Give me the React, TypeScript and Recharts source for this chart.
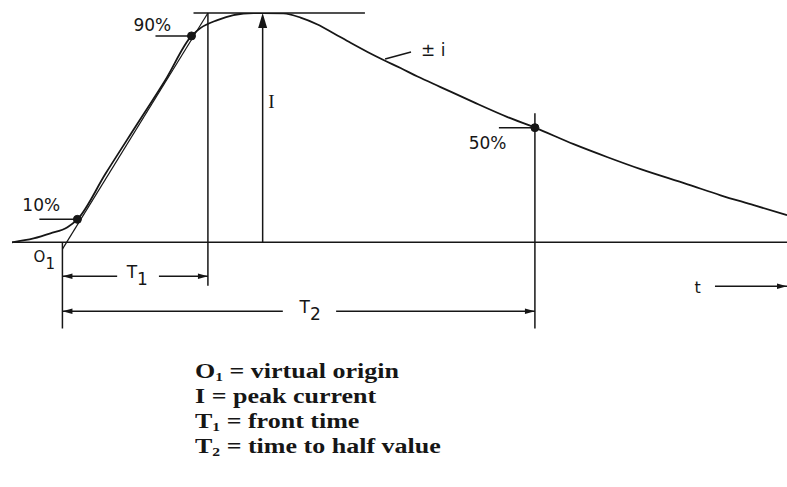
import {
  ComposedChart,
  Line,
  ReferenceDot,
  ReferenceLine,
  XAxis,
  YAxis,
} from "recharts";

// Impulse current waveform.
// Time in arbitrary units with the virtual origin O1 at 0, current in % of peak.
const timeValues = [
  -3.5, -2.0, -0.83, 0.35, 1.04, 3.0, 5.07, 7.15, 8.96, 9.58, 10.76, 11.88,
  13.26, 13.9, 15.35, 16.53, 17.71, 18.82, 20.0, 21.18, 22.29, 23.47, 24.65,
  26.25, 28.54, 30.9, 32.8, 35.49, 37.85, 40.14, 43.4, 45.69, 47.99, 50.3,
];
const currentPct = [
  0, 1.7, 3.9, 6.6, 10, 30.0, 50.4, 70.8, 90, 93.4, 96.9, 99.1, 100, 100, 99.8,
  98.0, 95.0, 91.2, 87.0, 83.0, 79.5, 76.0, 72.3, 67.7, 61.1, 54.6, 50, 42.8,
  37.1, 31.9, 25.3, 20.5, 16.2, 11.8,
];

// characteristic points on the curve
const markLabels = ["10%", "90%", "50%"];
const markTimes = [1.04, 8.96, 32.8];
const markLevels = [10, 90, 50];

// characteristic instants
const O1 = 0;
const T1_END = 10.1;
const T_PEAK = 13.9;
const T2_END = 32.8;

const legendLines = [
  ["O", "1", " = virtual origin"],
  ["I", "", " = peak current"],
  ["T", "1", " = front time"],
  ["T", "2", " = time to half value"],
];

const INK = "#161616";
const SANS = "'DejaVu Sans', Verdana, sans-serif";

const data = timeValues.map((t, i) => ({ t, pct: currentPct[i] }));

function textShape(content: React.ReactNode, anchor = "start", size = 17, family = SANS) {
  return (p: any) => (
    <text
      x={p.cx}
      y={p.cy}
      textAnchor={anchor}
      fontSize={size}
      fontFamily={family}
      fill={INK}
    >
      {content}
    </text>
  );
}

function arrowHead(dir: "left" | "right" | "up") {
  return (p: any) => {
    const { cx, cy } = p;
    let pts = "";
    if (dir === "right") pts = `${cx},${cy} ${cx - 10},${cy - 2.8} ${cx - 10},${cy + 2.8}`;
    if (dir === "left") pts = `${cx},${cy} ${cx + 10},${cy - 2.8} ${cx + 10},${cy + 2.8}`;
    if (dir === "up") pts = `${cx},${cy} ${cx - 4.5},${cy + 15} ${cx + 4.5},${cy + 15}`;
    return <polygon points={pts} fill={INK} />;
  };
}

const sub = (main: string, s: string) => (
  <>
    <tspan>{main}</tspan>
    <tspan dy={7}>{s}</tspan>
  </>
);

export default function App() {
  const line = { stroke: INK, strokeWidth: 1.5, ifOverflow: "visible" as const };
  return (
    <div style={{ position: "absolute", left: 0, top: 0, width: 787, height: 487, background: "#fff" }}>
      <ComposedChart
        width={787}
        height={487}
        data={data}
        margin={{ top: 13, right: 0, bottom: 153, left: 12 }}
      >
        <XAxis type="number" dataKey="t" domain={[-3.5, 50.3]} hide allowDataOverflow />
        <YAxis type="number" domain={[-40, 100]} hide allowDataOverflow />

        {/* time axis */}
        <ReferenceLine y={0} {...line} />
        {/* peak level */}
        <ReferenceLine segment={[{ x: 9.1, y: 100 }, { x: 21.0, y: 100 }]} {...line} />
        {/* straight line through 10% and 90% */}
        <ReferenceLine segment={[{ x: O1, y: -3 }, { x: T1_END, y: 100 }]} {...line} strokeWidth={1.2} />

        {/* verticals */}
        <ReferenceLine segment={[{ x: O1, y: 0 }, { x: O1, y: -37.6 }]} {...line} />
        <ReferenceLine segment={[{ x: T1_END, y: 100 }, { x: T1_END, y: -19 }]} {...line} />
        <ReferenceLine segment={[{ x: T_PEAK, y: 0 }, { x: T_PEAK, y: 98 }]} {...line} />
        <ReferenceLine segment={[{ x: T2_END, y: 56.3 }, { x: T2_END, y: -37.6 }]} {...line} />

        {/* level leaders */}
        <ReferenceLine segment={[{ x: -1.6, y: 10 }, { x: markTimes[0], y: 10 }]} {...line} />
        <ReferenceLine segment={[{ x: 6.46, y: 90 }, { x: markTimes[1], y: 90 }]} {...line} />
        <ReferenceLine segment={[{ x: 30.3, y: 50 }, { x: markTimes[2], y: 50 }]} {...line} />
        <ReferenceLine segment={[{ x: 22.4, y: 79.9 }, { x: 24.2, y: 83.0 }]} {...line} />

        {/* T1 dimension */}
        <ReferenceLine segment={[{ x: O1, y: -14.8 }, { x: 3.8, y: -14.8 }]} {...line} />
        <ReferenceLine segment={[{ x: 6.7, y: -14.8 }, { x: T1_END, y: -14.8 }]} {...line} />
        {/* T2 dimension */}
        <ReferenceLine segment={[{ x: O1, y: -30.1 }, { x: 15.3, y: -30.1 }]} {...line} />
        <ReferenceLine segment={[{ x: 19.0, y: -30.1 }, { x: T2_END, y: -30.1 }]} {...line} />
        {/* t direction arrow */}
        <ReferenceLine segment={[{ x: 45.3, y: -19.2 }, { x: 50.3, y: -19.2 }]} {...line} />

        <Line
          type="monotone"
          dataKey="pct"
          stroke={INK}
          strokeWidth={1.8}
          dot={false}
          isAnimationActive={false}
        />

        {/* arrowheads */}
        <ReferenceDot x={T_PEAK} y={100} ifOverflow="visible" shape={arrowHead("up")} />
        <ReferenceDot x={O1} y={-14.8} ifOverflow="visible" shape={arrowHead("left")} />
        <ReferenceDot x={T1_END} y={-14.8} ifOverflow="visible" shape={arrowHead("right")} />
        <ReferenceDot x={O1} y={-30.1} ifOverflow="visible" shape={arrowHead("left")} />
        <ReferenceDot x={T2_END} y={-30.1} ifOverflow="visible" shape={arrowHead("right")} />
        <ReferenceDot x={50.3} y={-19.2} ifOverflow="visible" shape={arrowHead("right")} />

        {/* marked points */}
        {markTimes.map((t, i) => (
          <ReferenceDot key={markLabels[i]} x={t} y={markLevels[i]} r={4} fill={INK} stroke={INK} ifOverflow="visible" />
        ))}

        {/* labels */}
        <ReferenceDot x={-2.78} y={13.5} ifOverflow="visible" shape={textShape(markLabels[0])} />
        <ReferenceDot x={4.93} y={92} ifOverflow="visible" shape={textShape(markLabels[1])} />
        <ReferenceDot x={28.2} y={40.6} ifOverflow="visible" shape={textShape(markLabels[2])} />
        <ReferenceDot x={24.9} y={81.2} ifOverflow="visible" shape={textShape("± i", "start", 17)} />
        <ReferenceDot x={14.5} y={58.5} ifOverflow="visible" shape={textShape("I", "middle", 19, "'Liberation Serif', serif")} />
        <ReferenceDot x={-2.0} y={-8.7} ifOverflow="visible" shape={textShape(sub("O", "1"), "start", 15)} />
        <ReferenceDot x={5.2} y={-15.7} ifOverflow="visible" shape={textShape(sub("T", "1"), "middle", 17)} />
        <ReferenceDot x={17.2} y={-31} ifOverflow="visible" shape={textShape(sub("T", "2"), "middle", 17)} />
        <ReferenceDot x={44.1} y={-22.3} ifOverflow="visible" shape={textShape("t", "middle", 16)} />
      </ComposedChart>

      <div
        style={{
          position: "absolute",
          left: 195,
          top: 359,
          fontFamily: "'Liberation Serif', 'Times New Roman', serif",
          fontWeight: "bold",
          fontSize: 20,
          color: INK,
          transform: "scaleX(1.3)",
          transformOrigin: "left top",
          whiteSpace: "nowrap",
        }}
      >
        {legendLines.map(([m, s, rest]) => (
          <div key={m + s} style={{ height: 25, lineHeight: "25px", overflow: "visible" }}>
            {m}
            {s && (
              <span style={{ fontSize: 12, lineHeight: 0, position: "relative", top: 3 }}>{s}</span>
            )}
            {rest}
          </div>
        ))}
      </div>
    </div>
  );
}
